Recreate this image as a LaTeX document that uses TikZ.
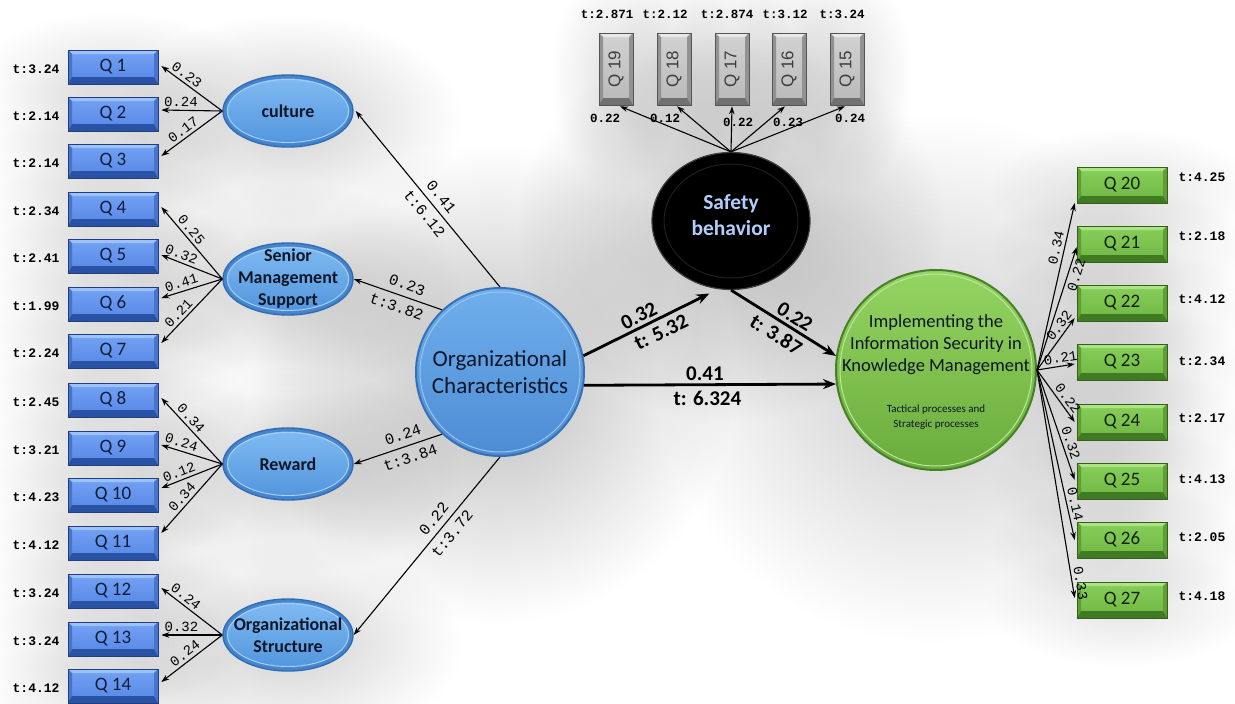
\documentclass[tikz,border=0pt]{standalone}
\usepackage{fontspec}
\setmainfont{Carlito}
\newfontfamily\monof{Liberation Mono}
\newfontfamily\arialf{Liberation Sans}
\usetikzlibrary{arrows.meta,shapes.geometric,backgrounds,fadings,calc}

% blue indicator boxes
\definecolor{qbFaceT}{RGB}{116,162,244}
\definecolor{qbFaceB}{RGB}{84,134,228}
\definecolor{qbHi}{RGB}{156,194,252}
\definecolor{qbSide}{RGB}{72,116,208}
\definecolor{qbDark}{RGB}{42,82,164}
\definecolor{qbEdge}{RGB}{34,62,124}
\definecolor{qbText}{RGB}{18,28,60}
% green indicator boxes
\definecolor{qgFaceT}{RGB}{136,206,90}
\definecolor{qgFaceB}{RGB}{110,182,66}
\definecolor{qgHi}{RGB}{172,228,132}
\definecolor{qgSide}{RGB}{92,160,52}
\definecolor{qgDark}{RGB}{64,122,34}
\definecolor{qgEdge}{RGB}{52,96,28}
\definecolor{qgText}{RGB}{20,34,12}
% grey indicator boxes
\definecolor{qyFaceT}{RGB}{210,210,210}
\definecolor{qyFaceB}{RGB}{184,184,184}
\definecolor{qyHi}{RGB}{232,232,232}
\definecolor{qySide}{RGB}{146,146,146}
\definecolor{qyDark}{RGB}{112,112,112}
\definecolor{qyEdge}{RGB}{84,84,84}
\definecolor{qyText}{RGB}{60,60,60}
% latent variables
\definecolor{ovT}{RGB}{130,188,242}
\definecolor{ovB}{RGB}{80,148,220}
\definecolor{ovEdge}{RGB}{50,108,178}
\definecolor{ovBand}{RGB}{70,132,206}
\definecolor{ovRing}{RGB}{168,208,248}
\definecolor{ocT}{RGB}{112,174,236}
\definecolor{ocB}{RGB}{76,140,212}
\definecolor{ocEdge}{RGB}{56,112,182}
\definecolor{gcT}{RGB}{148,212,98}
\definecolor{gcB}{RGB}{106,172,60}
\definecolor{gcEdge}{RGB}{70,128,38}
\definecolor{sbText}{RGB}{176,206,250}
\definecolor{darkText}{RGB}{14,22,40}

% radial fading for the soft shadows
\tikzfading[name=softhalo, inner color=transparent!0, outer color=transparent!100]

% bevelled faces of an indicator box: highlight, sides, bottom, bottom depth
\newcommand\bevelfaces[4]{%
  \fill[#1] let \p1=(path picture bounding box.south west),
                \p2=(path picture bounding box.north east) in
    (\x1,\y2) -- (\x2,\y2) -- (\x2-4pt,\y2-4pt) -- (\x1+4pt,\y2-4pt) -- cycle;
  \fill[#2] let \p1=(path picture bounding box.south west),
                \p2=(path picture bounding box.north east) in
    (\x1,\y2) -- (\x1+4pt,\y2-4pt) -- (\x1+4pt,\y1+#4) -- (\x1,\y1) -- cycle
    (\x2,\y2) -- (\x2-4pt,\y2-4pt) -- (\x2-4pt,\y1+#4) -- (\x2,\y1) -- cycle;
  \fill[#3] let \p1=(path picture bounding box.south west),
                \p2=(path picture bounding box.north east) in
    (\x1,\y1) -- (\x1+4pt,\y1+#4) -- (\x2-4pt,\y1+#4) -- (\x2,\y1) -- cycle;
}

\tikzset{
  bevelbox/.style n args={6}{rectangle, inner sep=0pt, line width=0.6pt, draw=#6,
    top color=#1, bottom color=#2, path picture={\bevelfaces{#3}{#4}{#5}{7pt}}},
  qblue/.style={bevelbox={qbFaceT}{qbFaceB}{qbHi}{qbSide}{qbDark}{qbEdge},
    minimum width=90pt, minimum height=34pt, text=qbText, text depth=3pt,
    font=\fontsize{19}{19}\selectfont},
  qgreen/.style={bevelbox={qgFaceT}{qgFaceB}{qgHi}{qgSide}{qgDark}{qgEdge},
    minimum width=90pt, minimum height=36pt, text=qgText, text depth=3pt,
    font=\fontsize{19}{19}\selectfont},
  qgrey/.style={bevelbox={qyFaceT}{qyFaceB}{qyHi}{qySide}{qyDark}{qyEdge},
    minimum width=34pt, minimum height=72pt, text=qyText,
    font=\arialf\fontsize{17}{17}\selectfont},
  lvoval/.style={ellipse, minimum width=130pt, minimum height=72pt, inner sep=0pt,
    top color=ovT, bottom color=ovB, draw=ovEdge, line width=1.4pt,
    path picture={
      \draw[ovBand, line width=7pt] (path picture bounding box.center) ellipse (65pt and 36pt);
      \draw[ovRing, line width=0.9pt] (path picture bounding box.center) ellipse (60.5pt and 31.5pt);}},
  lvtext/.style={align=center, text=darkText, inner sep=0pt,
    font=\bfseries\fontsize{18}{22}\selectfont},
  coef/.style={font=\monof\fontsize{14}{15}\selectfont, inner sep=3pt},
  mainc/.style={font=\monof\fontsize{15.5}{16}\selectfont, inner sep=6pt},
  tval/.style={font=\monof\bfseries\fontsize{13}{14}\selectfont, inner sep=0pt},
  ttop/.style={font=\monof\bfseries\fontsize{12.5}{13}\selectfont, inner sep=0pt},
  big/.style={font=\bfseries\fontsize{21}{24}\selectfont, inner sep=3pt},
  bigb/.style={font=\bfseries\fontsize{21}{24}\selectfont, inner sep=5pt},
  lnk/.style={line width=1.1pt, -{Stealth[length=8pt,width=5.5pt]}},
  lnkbold/.style={line width=2.8pt, -{Stealth[length=13pt,width=10pt]}},
  haze/.style={fill=black, path fading=softhalo},
}

\begin{document}
\begin{tikzpicture}[x=1pt,y=1pt]
\useasboundingbox (0,0) rectangle (1235,-704);

% ---------- exogenous construct and its dimensions ----------
\node[circle, minimum size=168pt, inner sep=0pt, top color=ocT, bottom color=ocB,
      draw=ocEdge, line width=2pt, align=center, text=darkText,
      font=\fontsize{23}{27}\selectfont,
      path picture={\draw[ocT!70!white, line width=1pt] (path picture bounding box.center) circle (80pt);}]
  (oc) at (500,-372) {Organizational\\Characteristics};

\node[lvoval, label={[name=culttxt, lvtext]center:culture}] (cult) at (288,-111) {};
\node[lvoval, label={[name=smstxt, lvtext]center:{Senior\\Management\\Support}}] (sms) at (288,-279) {};
\node[lvoval, label={[name=rewtxt, lvtext]center:Reward}] (rew) at (288,-464) {};
\node[lvoval, label={[name=osttxt, lvtext]center:{Organizational\\Structure}}] (ost) at (288,-635) {};

% ---------- indicators on the left ----------
\foreach \n/\y in {1/67,2/114,3/161,4/209,5/256,6/304,7/351,8/400,9/448,10/495,11/543,12/591,13/639,14/686}
  \node[qblue] (q\n) at (113,-\y) {Q \n};

\foreach \n/\t in {1/3.24,2/2.14,3/2.14,4/2.34,5/2.41,6/1.99,7/2.24,8/2.45,9/3.21,10/4.23,11/4.12,12/3.24,13/3.24,14/4.12}
  \node[tval, anchor=east] (t\n) at ([xshift=-8pt,yshift=-2pt]q\n.west) {t:\t};

\foreach \e/\q/\c/\p/\dy in {cult/1/0.23/.66/1, cult/2/0.24/.68/4, cult/3/0.17/.56/5,
    sms/4/0.25/.61/2, sms/5/0.32/.72/1, sms/6/0.41/.63/6, sms/7/0.21/.62/8,
    rew/8/0.34/.61/2, rew/9/0.24/.71/3, rew/10/0.12/.66/7, rew/11/0.34/.56/10,
    ost/12/0.24/.68/3, ost/13/0.32/.67/4, ost/14/0.24/.53/4}
  \draw[lnk] (\e.west) -- node[coef, sloped, above, pos=\p] {\c} ([xshift=3pt,yshift=\dy pt]q\q.east);

% ---------- mediator ----------
\node[ellipse, minimum width=158pt, minimum height=137pt, inner sep=0pt, fill=black,
      draw=black!75, line width=1.2pt, text=sbText, align=center, text depth=12pt,
      font=\bfseries\fontsize{21.5}{26}\selectfont,
      path picture={\draw[black!88, line width=1pt] (path picture bounding box.center) ellipse (67pt and 57pt);}]
  (safe) at (731,-221) {Safety\\behavior};

\foreach \n/\x in {19/616,18/674,17/732,16/789,15/847}
  \node[qgrey] (q\n) at (\x,-69) {\rotatebox{90}{Q \n}};

\node[ttop] (t19) at ([xshift=-9pt,yshift=18pt]q19.north) {t:2.871};
\node[ttop] (t18) at ([xshift=-9pt,yshift=18pt]q18.north) {t:2.12};
\node[ttop] (t17) at ([xshift=-5pt,yshift=18pt]q17.north) {t:2.874};
\node[ttop] (t16) at ([xshift=-4pt,yshift=18pt]q16.north) {t:3.12};
\node[ttop] (t15) at ([xshift=-5pt,yshift=18pt]q15.north) {t:3.24};

\node[ttop] (c19) at ([xshift=-11pt,yshift=-13pt]q19.south) {0.22};
\node[ttop] (c18) at ([xshift=-9pt,yshift=-13pt]q18.south) {0.12};
\node[ttop] (c17) at ([xshift=6pt,yshift=-17pt]q17.south) {0.22};
\node[ttop] (c16) at ([xshift=-1pt,yshift=-17pt]q16.south) {0.23};
\node[ttop] (c15) at ([xshift=3pt,yshift=-13pt]q15.south) {0.24};

\foreach \n/\dx in {19/4,18/3,17/0,16/-4,15/-2}
  \draw[lnk] (safe.north) -- ([xshift=\dx pt,yshift=-1pt]q\n.south);

% ---------- endogenous construct ----------
\node[circle, minimum size=200pt, inner sep=0pt, top color=gcT, bottom color=gcB,
      draw=gcEdge, line width=2pt,
      path picture={\draw[gcT!60!white, line width=1pt] (path picture bounding box.center) circle (96pt);}]
  (impl) at (936,-370) {};
\node[align=center, text=darkText, font=\fontsize{18.5}{22}\selectfont] (impltitle) at (936,-345)
  {Implementing the\\Information Security in\\Knowledge Management};
\node[align=center, text=darkText, font=\fontsize{11}{15}\selectfont] (implsub) at (936,-417.5)
  {Tactical processes and\\Strategic processes};

\foreach \n/\y in {20/185,21/244,22/303,23/362,24/422,25/481,26/540,27/600}
  \node[qgreen] (q\n) at (1122,-\y) {Q \n};

\foreach \n/\t/\dy in {20/4.25/8,21/2.18/8,22/4.12/4,23/2.34/1,24/2.17/4,25/4.13/2,26/2.05/3,27/4.18/4}
  \node[tval, anchor=west] (t\n) at ([xshift=11pt,yshift=\dy pt]q\n.east) {t:\t};

\foreach \q/\c/\p/\dy in {20/0.34/.72/-18, 22/0.32/.76/-15, 23/0.21/.66/-2, 24/0.22/.64/0,
    25/0.32/.69/1, 26/0.14/.80/0, 27/0.33/.94/2}
  \draw[lnk] (impl.east) -- node[coef, sloped, above, pos=\p] {\c} ([xshift=-2pt,yshift=\dy pt]q\q.west);
\draw[lnk] (impl.east) -- node[coef, sloped, below, pos=.79] {0.22} ([xshift=0pt,yshift=-3pt]q21.west);

% ---------- structural paths ----------
\draw[lnk] (oc.90) -- node[mainc, sloped, above, pos=.47] {0.41}
                      node[mainc, sloped, below, pos=.46] {t:6.12} ([xshift=2pt]cult.east);
\draw[lnk] (oc.133) -- node[mainc, sloped, above, pos=.44] {0.23}
                       node[mainc, sloped, below, pos=.47] {t:3.82} (sms.east);
\draw[lnk] (oc.227) -- node[mainc, sloped, above, pos=.40] {0.24}
                       node[mainc, sloped, below, pos=.40] {t:3.84} (rew.east);
\draw[lnk] (oc.270) -- node[mainc, sloped, above, pos=.39] {0.22}
                       node[mainc, sloped, below, pos=.39] {t:3.72} (ost.east);

\draw[lnkbold] (oc.11) -- node[big, sloped, above, pos=.48] {0.32}
                          node[bigb, sloped, below, pos=.57] {t: 5.32} ([yshift=-6pt]safe.252);
\draw[lnkbold] (safe.south) -- node[big, sloped, above, pos=.55] {0.22}
                               node[bigb, sloped, below, pos=.50] {t: 3.87} (impl.172);
\draw[lnkbold] (oc.351) -- node[big, above, pos=.48] {0.41}
                           node[bigb, below, pos=.49] {t: 6.324} (impl.188);

% ---------- soft shadows ----------
\begin{scope}[on background layer]
  \fill[white] (0,0) rectangle (1235,-704);
  \foreach \n in {1,...,14}
    \fill[haze, opacity=.11] ([yshift=-5pt]q\n.center) ellipse (135pt and 60pt);
  \foreach \n in {15,...,19}
    \fill[haze, opacity=.12] ([yshift=-8pt]q\n.center) ellipse (66pt and 115pt);
  \foreach \n in {20,...,27}
    \fill[haze, opacity=.11] ([yshift=-5pt]q\n.center) ellipse (135pt and 62pt);
  \foreach \e in {cult,sms,rew,ost}
    \fill[haze, opacity=.18] ([yshift=-8pt]\e.center) ellipse (175pt and 105pt);
  \fill[haze, opacity=.26] ([shift={(-6pt,-12pt)}]oc.center) ellipse (240pt and 240pt);
  \fill[haze, opacity=.24] ([yshift=-8pt]safe.center) ellipse (215pt and 195pt);
  \fill[haze, opacity=.2] ([shift={(-4pt,-8pt)}]impl.center) ellipse (275pt and 265pt);
\end{scope}
\end{tikzpicture}
\end{document}
